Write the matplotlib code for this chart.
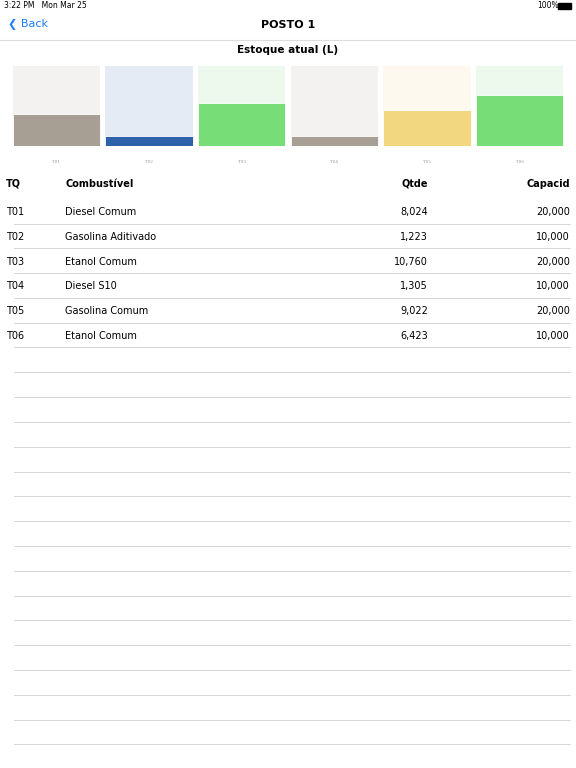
import matplotlib.pyplot as plt
import numpy as np

tanks = ["T01", "T02", "T03", "T04", "T05", "T06"]
fuels = ["Diesel Comum", "Gasolina Aditivado", "Etanol Comum", "Diesel S10", "Gasolina Comum", "Etanol Comum"]
qtde = [8024, 1223, 10760, 1305, 9022, 6423]
capacidade = [20000, 10000, 20000, 10000, 20000, 10000]
fill_colors = ["#a89f94", "#2e62a8", "#77dd77", "#a89f94", "#f2d680", "#77dd77"]
bg_colors = ["#f3f2f0", "#e4ebf5", "#eef9ee", "#f3f2f0", "#fdf9ee", "#eef9ee"]

W, H = 576, 768
fig = plt.figure(figsize=(W / 100, H / 100), dpi=100)


def fx(px):
    return px / W


def fy(py):
    return 1 - py / H


# status bar and nav bar
fig.text(fx(4), fy(6), "3:22 PM   Mon Mar 25", fontsize=5.5, va="center")
fig.text(fx(537), fy(6), "100%", fontsize=5.5, va="center")
fig.patches.append(plt.Rectangle((fx(558), fy(9)), fx(13), 6 / H, color="black", transform=fig.transFigure))
fig.text(fx(8), fy(25), "❮ Back", fontsize=8, color="#1a7cf5", va="center")
fig.text(0.5, fy(25), "POSTO 1", fontsize=8, fontweight="bold", va="center", ha="center")
fig.lines.append(plt.Line2D([0, 1], [fy(40), fy(40)], color="#dddddd", lw=0.8, transform=fig.transFigure))
fig.text(0.5, fy(50), "Estoque atual (L)", fontsize=7.5, fontweight="bold", va="center", ha="center")

# bars
ax = fig.add_axes([fx(10), fy(146), fx(556), 80 / H])
x = np.arange(len(tanks))
frac = np.array(qtde) / np.array(capacidade)
ax.bar(x, np.ones(len(x)), width=0.94, color=bg_colors)
ax.bar(x, frac, width=0.94, color=fill_colors, edgecolor="white", linewidth=0.6)
ax.set_xlim(-0.5, len(x) - 0.5)
ax.set_ylim(0, 1)
ax.axis("off")
for xi, t in zip(x, tanks):
    ax.text(xi, -0.2, t, fontsize=3, color="#999999", ha="center", va="center", family="serif")

# table
fig.text(fx(6), fy(184), "TQ", fontsize=7, fontweight="bold", va="center")
fig.text(fx(65), fy(184), "Combustível", fontsize=7, fontweight="bold", va="center")
fig.text(fx(428), fy(184), "Qtde", fontsize=7, fontweight="bold", va="center", ha="right")
fig.text(fx(570), fy(184), "Capacid", fontsize=7, fontweight="bold", va="center", ha="right")
row_h = 24.8
for i, (t, f, q, c) in enumerate(zip(tanks, fuels, qtde, capacidade)):
    y = 212 + i * row_h
    fig.text(fx(6), fy(y), t, fontsize=7, va="center")
    fig.text(fx(65), fy(y), f, fontsize=7, va="center")
    fig.text(fx(428), fy(y), f"{q:,}", fontsize=7, va="center", ha="right")
    fig.text(fx(570), fy(y), f"{c:,}", fontsize=7, va="center", ha="right")
for i in range(22):
    y = 223.5 + i * row_h
    if y > 760:
        break
    fig.lines.append(plt.Line2D([fx(14), fx(570)], [fy(y), fy(y)], color="#cfcfcf", lw=0.6, transform=fig.transFigure))

fig.savefig("out.png", dpi=100)
